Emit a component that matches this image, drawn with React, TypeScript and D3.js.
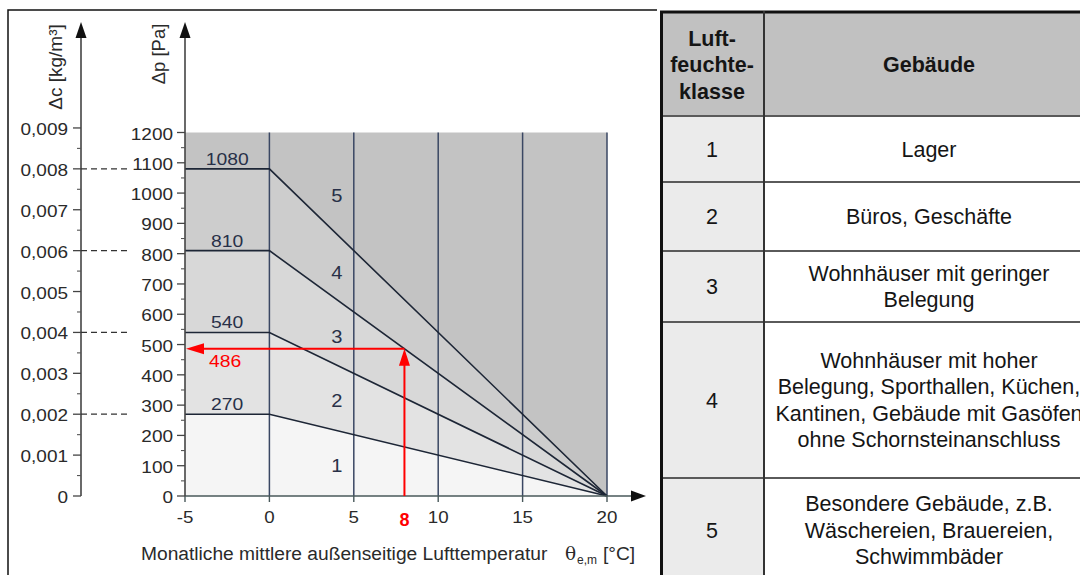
import React from "react";
import * as d3 from "d3";

// Humidity class diagram: internal/external pressure difference Δp and
// moisture surplus Δc versus monthly mean outdoor temperature θe,m.
const temperatureTicks = [-5, 0, 5, 10, 15, 20];
const pressureTicks = [0, 100, 200, 300, 400, 500, 600, 700, 800, 900, 1000, 1100, 1200];
const pressureMinorTicks = [50, 150, 250, 350, 450, 550, 650, 750, 850, 950, 1050, 1150];
const densityTicks = [0, 0.001, 0.002, 0.003, 0.004, 0.005, 0.006, 0.007, 0.008, 0.009];
const densityMinorTicks = [0.0005, 0.0015, 0.0025, 0.0035, 0.0045, 0.0055, 0.0065, 0.0075, 0.0085];

// Upper Δp limit of classes 1–4 for θ ≤ 0 °C; falls linearly to 0 at 20 °C
const classBoundaryPressure = [270, 540, 810, 1080];
const densityAtBoundary = [0.002, 0.004, 0.006, 0.008];
const temperatureStart = -5;
const kneeTemperature = 0;
const zeroTemperature = 20;
const pressureMax = 1200;

const classIds = ["1", "2", "3", "4", "5"];
const classLabelTemperature = 4;
const classLabelPressure = [100, 315, 525, 735, 990];

// Worked example
const exampleTemperature = 8;
const examplePressure = 486;

const tableHeaderClass = ["Luft-", "feuchte-", "klasse"];
const tableHeaderBuilding = "Gebäude";
const tableBuildings = [
  ["Lager"],
  ["Büros, Geschäfte"],
  ["Wohnhäuser mit geringer", "Belegung"],
  [
    "Wohnhäuser mit hoher",
    "Belegung, Sporthallen, Küchen,",
    "Kantinen, Gebäude mit Gasöfen",
    "ohne Schornsteinanschluss",
  ],
  ["Besondere Gebäude, z.B.", "Wäschereien, Brauereien,", "Schwimmbäder"],
];

const bandFills = ["#f5f5f5", "#e3e3e3", "#d8d8d8", "#cdcdcd", "#c3c3c3"];
const FONT = "'Liberation Sans', Arial, Helvetica, sans-serif";
const TEXT = "#2a2a2a";

const deLocale = d3.formatLocale({
  decimal: ",",
  thousands: ".",
  grouping: [3],
  currency: ["", " €"],
});
const fmtDensity = (v: number) => (v === 0 ? "0" : deLocale.format(".3f")(v));

function SText(props: {
  x: number;
  y: number;
  sx?: number;
  size: number;
  anchor?: "start" | "middle" | "end";
  fill?: string;
  weight?: string | number;
  children: React.ReactNode;
}) {
  const { x, y, sx = 1, size, anchor = "start", fill = TEXT, weight = "normal", children } = props;
  return (
    <text
      transform={`translate(${x},${y}) scale(${sx},1)`}
      textAnchor={anchor}
      fontSize={size}
      fontFamily={FONT}
      fill={fill}
      fontWeight={weight}
    >
      {children}
    </text>
  );
}

function Chart() {
  const x = d3.scaleLinear().domain([temperatureStart, zeroTemperature]).range([185, 607]);
  const y = d3.scaleLinear().domain([0, pressureMax]).range([496, 132.5]);
  const densityPerPascal = densityAtBoundary[3] / classBoundaryPressure[3];
  const yc = d3
    .scaleLinear()
    .domain([0, 0.009])
    .range([y(0), y(0.009 / densityPerPascal)]);

  const line = d3
    .line<[number, number]>()
    .x((d) => x(d[0]))
    .y((d) => y(d[1]));
  const profile = (p: number): [number, number][] => [
    [temperatureStart, p],
    [kneeTemperature, p],
    [zeroTemperature, 0],
  ];
  const band = (p: number) => line([[temperatureStart, 0], ...profile(p)]) + "Z";

  const axisX = x(temperatureStart);
  const densityAxisX = 81;
  const digitStretch = 1.15;

  const exX = x(exampleTemperature);
  const exY = y(examplePressure);

  return (
    <g>
      {/* outer frame of the diagram */}
      <path d="M8,575 V10 H657" fill="none" stroke="#111" strokeWidth={1.5} />

      {/* class bands */}
      <rect
        x={x(temperatureStart)}
        y={y(pressureMax)}
        width={x(zeroTemperature) - x(temperatureStart)}
        height={y(0) - y(pressureMax)}
        fill={bandFills[4]}
      />
      {classBoundaryPressure
        .map((p, i) => ({ p, i }))
        .reverse()
        .map(({ p, i }) => (
          <path key={"band" + p} d={band(p)} fill={bandFills[i]} />
        ))}

      {/* vertical grid */}
      {temperatureTicks
        .filter((t) => t > temperatureStart)
        .map((t) => (
          <line
            key={"g" + t}
            x1={x(t)}
            x2={x(t)}
            y1={y(0)}
            y2={y(pressureMax)}
            stroke="#3a4763"
            strokeWidth={1.5}
          />
        ))}

      {/* class boundary lines */}
      {classBoundaryPressure.map((p) => (
        <path
          key={"l" + p}
          d={line(profile(p)) || ""}
          fill="none"
          stroke="#1d2636"
          strokeWidth={1.6}
        />
      ))}

      {/* boundary values */}
      {classBoundaryPressure.map((p) => (
        <SText
          key={"v" + p}
          x={x((temperatureStart + kneeTemperature) / 2)}
          y={y(p) - 4}
          size={16.8}
          sx={digitStretch}
          anchor="middle"
          fill="#283048"
        >
          {p}
        </SText>
      ))}

      {/* class numbers */}
      {classIds.map((c, i) => (
        <SText
          key={"c" + c}
          x={x(classLabelTemperature)}
          y={y(classLabelPressure[i]) + 6}
          size={17.5}
          sx={digitStretch}
          anchor="middle"
          fill="#283048"
        >
          {c}
        </SText>
      ))}

      {/* x axis */}
      <line x1={axisX} x2={634} y1={y(0)} y2={y(0)} stroke="#48585a" strokeWidth={1.6} />
      <path d={`M646,${y(0)} L631,${y(0) - 5.5} L631,${y(0) + 5.5} Z`} fill="#111" />
      {temperatureTicks.map((t) => (
        <g key={"xt" + t}>
          <line x1={x(t)} x2={x(t)} y1={y(0)} y2={y(0) + 6} stroke="#48585a" strokeWidth={1.4} />
          <SText x={x(t)} y={522.5} size={16.3} sx={digitStretch} anchor="middle">
            {t < 0 ? "-" + Math.abs(t) : String(t)}
          </SText>
        </g>
      ))}

      {/* Δp axis */}
      <line x1={axisX} x2={axisX} y1={y(0)} y2={34} stroke="#444" strokeWidth={1.6} />
      <path d={`M${axisX},22 L${axisX - 5.5},38 L${axisX + 5.5},38 Z`} fill="#111" />
      {pressureTicks.map((p) => (
        <g key={"yt" + p}>
          <line x1={axisX - 8} x2={axisX} y1={y(p)} y2={y(p)} stroke="#444" strokeWidth={1.3} />
          <SText x={axisX - 12} y={y(p) + 7} size={16.5} sx={digitStretch} anchor="end">
            {p}
          </SText>
        </g>
      ))}
      {pressureMinorTicks.map((p) => (
        <line key={"ym" + p} x1={axisX - 4} x2={axisX} y1={y(p)} y2={y(p)} stroke="#555" strokeWidth={1.1} />
      ))}
      <text
        transform={`translate(165,54) rotate(-90)`}
        textAnchor="middle"
        fontSize={18.5}
        fontFamily={FONT}
        fill={TEXT}
      >
        Δp [Pa]
      </text>

      {/* Δc axis */}
      <line
        x1={densityAxisX}
        x2={densityAxisX}
        y1={yc(0)}
        y2={34}
        stroke="#444"
        strokeWidth={1.6}
      />
      <path
        d={`M${densityAxisX},22 L${densityAxisX - 5.5},38 L${densityAxisX + 5.5},38 Z`}
        fill="#111"
      />
      {densityTicks.map((d) => (
        <g key={"dt" + d}>
          <line
            x1={densityAxisX - 8}
            x2={densityAxisX}
            y1={yc(d)}
            y2={yc(d)}
            stroke="#444"
            strokeWidth={1.3}
          />
          <SText x={densityAxisX - 13} y={yc(d) + 7} size={16.5} sx={digitStretch} anchor="end">
            {fmtDensity(d)}
          </SText>
        </g>
      ))}
      {densityMinorTicks.map((d) => (
        <line
          key={"dm" + d}
          x1={densityAxisX - 4}
          x2={densityAxisX}
          y1={yc(d)}
          y2={yc(d)}
          stroke="#555"
          strokeWidth={1.1}
        />
      ))}
      <text
        transform={`translate(62,67) rotate(-90)`}
        textAnchor="middle"
        fontSize={19}
        fontFamily={FONT}
        fill={TEXT}
      >
        Δc [kg/m³]
      </text>

      {/* Δc ↔ Δp correspondences */}
      {densityAtBoundary.map((d) => (
        <line
          key={"dash" + d}
          x1={densityAxisX}
          x2={128}
          y1={yc(d)}
          y2={yc(d)}
          stroke="#333"
          strokeWidth={1.3}
          strokeDasharray="6,4"
        />
      ))}

      {/* worked example θ = 8 °C → Δp = 486 Pa */}
      <line x1={exX} x2={exX} y1={y(0)} y2={exY + 12} stroke="#ff0000" strokeWidth={2} />
      <path d={`M${exX},${exY} L${exX - 5.5},${exY + 17} L${exX + 5.5},${exY + 17} Z`} fill="#ff0000" />
      <line x1={exX} x2={axisX + 14} y1={exY} y2={exY} stroke="#ff0000" strokeWidth={2} />
      <path d={`M${axisX + 1},${exY} L${axisX + 19},${exY - 5.5} L${axisX + 19},${exY + 5.5} Z`} fill="#ff0000" />
      <SText
        x={x((temperatureStart + kneeTemperature) / 2) - 2}
        y={exY + 18}
        size={16.8}
        sx={digitStretch}
        anchor="middle"
        fill="#ff0000"
      >
        {examplePressure}
      </SText>
      <SText x={exX} y={526} size={18} anchor="middle" fill="#ff0000" weight="bold">
        {exampleTemperature}
      </SText>

      {/* x axis title */}
      <text y={560} fontSize={19.2} fontFamily={FONT} fill={TEXT}>
        <tspan x={141}>Monatliche mittlere außenseitige Lufttemperatur</tspan>
        <tspan x={565} fontFamily="'DejaVu Serif', serif" fontSize={18.5}>
          θ
        </tspan>
        <tspan x={577} fontSize={12} dy={4}>
          e,m
        </tspan>
        <tspan x={603} dy={-4}>
          [°C]
        </tspan>
      </text>
    </g>
  );
}

function Table() {
  const left = 660;
  const split = 764;
  const right = 1110;
  const top = 11;
  const headerBottom = 116;
  const rowHeights = [66, 69, 71, 156, 104];
  const lineGap = 26.5;
  const size = 21.5;
  const col1 = (left + split) / 2;
  const col2 = 929;

  let acc = headerBottom;
  const rows = rowHeights.map((h) => {
    const r = { y0: acc, y1: acc + h };
    acc += h;
    return r;
  });

  const lines = (texts: string[], cy: number, cx: number, bold = false) =>
    texts.map((t, i) => (
      <text
        key={t + i}
        x={cx}
        y={cy + (i - (texts.length - 1) / 2) * lineGap + size * 0.36}
        textAnchor="middle"
        fontSize={size}
        fontFamily={FONT}
        fontWeight={bold ? "bold" : "normal"}
        fill="#151515"
      >
        {t}
      </text>
    ));

  return (
    <g>
      <rect x={left} y={top} width={right - left} height={headerBottom - top} fill="#c1c1c1" />
      {rows.map((r, i) => (
        <g key={"row" + i}>
          <rect x={left} y={r.y0} width={split - left} height={r.y1 - r.y0} fill="#ebebeb" />
          <rect x={split} y={r.y0} width={right - split} height={r.y1 - r.y0} fill="#ffffff" />
        </g>
      ))}
      {rows.map((r, i) => (
        <line key={"hl" + i} x1={left} x2={right} y1={r.y0} y2={r.y0} stroke="#5a5a5a" strokeWidth={2} />
      ))}
      <line x1={left} x2={right} y1={top + 1} y2={top + 1} stroke="#111" strokeWidth={3} />
      <line x1={split} x2={split} y1={top} y2={600} stroke="#333" strokeWidth={2} />
      <line x1={left + 1.5} x2={left + 1.5} y1={top} y2={600} stroke="#111" strokeWidth={3} />

      {lines(tableHeaderClass, (top + headerBottom) / 2 + 1, col1, true)}
      {lines([tableHeaderBuilding], (top + headerBottom) / 2 + 1, col2, true)}
      {rows.map((r, i) => (
        <g key={"txt" + i}>
          {lines([classIds[i]], (r.y0 + r.y1) / 2, col1)}
          {lines(tableBuildings[i], (r.y0 + r.y1) / 2, col2)}
        </g>
      ))}
    </g>
  );
}

export default function App() {
  return (
    <div style={{ position: "absolute", left: 0, top: 0, width: 1080, height: 575, background: "#fff" }}>
      <svg width={1080} height={575} viewBox="0 0 1080 575" style={{ display: "block" }}>
        <rect width={1080} height={575} fill="#ffffff" />
        <Chart />
        <Table />
      </svg>
    </div>
  );
}
